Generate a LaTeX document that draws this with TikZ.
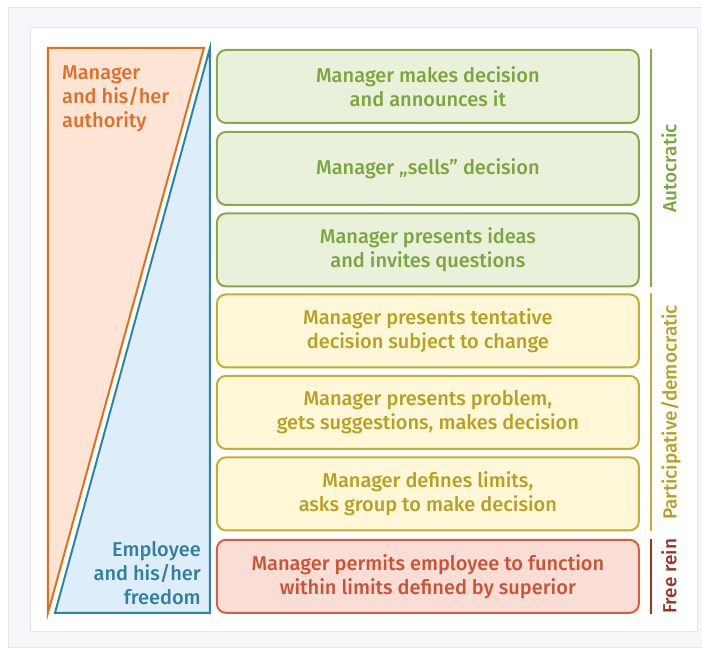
\documentclass[tikz,border=0pt]{standalone}
\usepackage{fontspec}
\setmainfont{Fira Sans}[UprightFont=* Medium]
\usepackage{tikz}
\usetikzlibrary{positioning}

\definecolor{authline}{RGB}{225,112,30}
\definecolor{authfill}{RGB}{253,228,212}
\definecolor{authtext}{RGB}{222,112,42}
\definecolor{freeline}{RGB}{45,132,168}
\definecolor{freefill}{RGB}{221,238,250}
\definecolor{freetext}{RGB}{50,128,160}
\definecolor{autoline}{RGB}{135,170,70}
\definecolor{autofill}{RGB}{234,241,218}
\definecolor{autotext}{RGB}{125,165,62}
\definecolor{partline}{RGB}{195,175,45}
\definecolor{partfill}{RGB}{254,248,216}
\definecolor{parttext}{RGB}{185,160,35}
\definecolor{reinline}{RGB}{215,95,65}
\definecolor{reinfill}{RGB}{250,222,214}
\definecolor{reintext}{RGB}{205,82,52}
\definecolor{reindark}{RGB}{160,50,35}
\definecolor{framegray}{RGB}{245,247,250}
\definecolor{frameedge}{RGB}{228,231,236}

\tikzset{
  stylebox/.style={draw, line width=2pt, rounded corners=9pt, minimum width=422pt,
    minimum height=73pt, align=center, inner sep=0pt,
    font=\fontsize{20}{24}\selectfont},
  autobox/.style={stylebox, draw=autoline, fill=autofill, text=autotext},
  partbox/.style={stylebox, draw=partline, fill=partfill, text=parttext},
  reinbox/.style={stylebox, draw=reinline, fill=reinfill, text=reintext},
  sidelabel/.style={rotate=90, font=\fontsize{19}{22}\selectfont, right=6pt, anchor=north},
  sideline/.style={line width=2pt}
}

\begin{document}
\begin{tikzpicture}[x=1pt, y=-1pt]
  % page and frame
  \fill[white] (0,0) rectangle (702,647);
  \fill[framegray, draw=frameedge] (8,7) rectangle (702,647);
  \fill[white, draw=frameedge] (30,27) rectangle (697,631);
  \useasboundingbox (0,0) rectangle (702,647);

  % authority versus freedom
  \draw[authline, fill=authfill, line width=2pt] (48,48) -- (204,48) -- (48,613) -- cycle;
  \draw[freeline, fill=freefill, line width=2pt] (210,48) -- (210,613) -- (55,613) -- cycle;
  \node[text=authtext, align=left, anchor=north west, inner sep=0pt,
    font=\fontsize{20}{24}\selectfont] (auth) at (62,66) {Manager\\and his/her\\authority};
  \node[text=freetext, align=right, anchor=south east, inner sep=0pt,
    font=\fontsize{20}{24}\selectfont] (free) at (201,605) {Employee\\and his/her\\freedom};

  % the seven styles
  \node[autobox] (b1) at (428,86.5) {Manager makes decision\\and announces it};
  \node[autobox] (b2) at (428,168.5) {Manager „sells” decision};
  \node[autobox] (b3) at (428,250) {Manager presents ideas\\and invites questions};
  \node[partbox] (b4) at (428,331) {Manager presents tentative\\decision subject to change};
  \node[partbox] (b5) at (428,412.5) {Manager presents problem,\\gets suggestions, makes decision};
  \node[partbox] (b6) at (428,494) {Manager defines limits,\\asks group to make decision};
  \node[reinbox] (b7) at (428,576.5) {Manager permits employee to function\\within limits defined by superior};

  % groups on the right
  \coordinate (lx) at (651,0);
  \draw[sideline, autoline] (b1.north east -| lx) -- (b3.south east -| lx)
    node[midway, sidelabel, text=autotext] {Autocratic};
  \draw[sideline, partline] (b4.north east -| lx) -- (b6.south east -| lx)
    node[midway, sidelabel, text=parttext] {Participative/democratic};
  \draw[sideline, reindark] (b7.north east -| lx) -- (b7.south east -| lx)
    node[midway, sidelabel, text=reindark] {Free rein};
\end{tikzpicture}
\end{document}
